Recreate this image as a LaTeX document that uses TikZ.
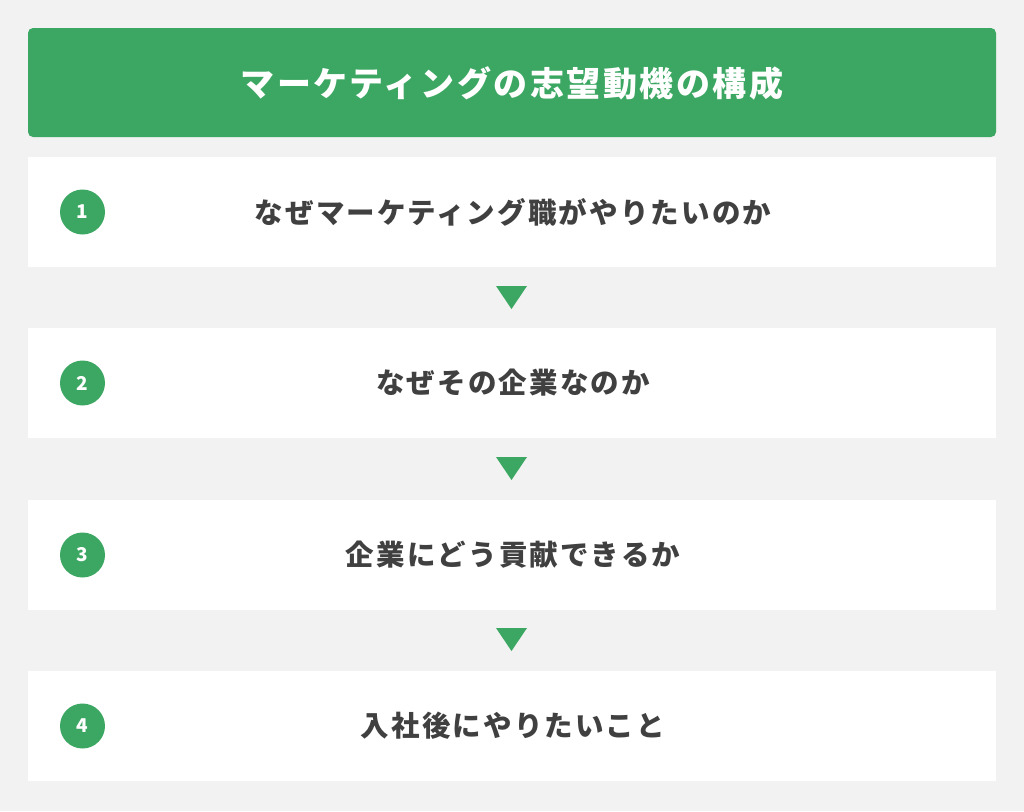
\documentclass[tikz,border=0pt]{standalone}
\usepackage{fontspec}
\newfontfamily\cjk{Noto Sans CJK JP}
\definecolor{bggray}{RGB}{242,242,242}
\definecolor{mygreen}{RGB}{60,167,98}
\definecolor{txtgray}{RGB}{64,64,64}
\tikzset{
  header/.style={fill=mygreen, rounded corners=5pt, draw=none},
  rowbox/.style={fill=white, draw=none},
  rowtext/.style={text=txtgray, font=\cjk\bfseries\fontsize{28.5}{31}\selectfont\addfontfeature{LetterSpace=7.5}, inner sep=0pt},
  numcirc/.style={circle, fill=mygreen, minimum size=45pt, inner sep=0pt, text=white, font=\cjk\bfseries\fontsize{19}{21}\selectfont},
  arrowtri/.style={fill=mygreen, draw=none}
}
\begin{document}
\begin{tikzpicture}[x=1pt,y=-1pt]
\useasboundingbox (0,0) rectangle (1024,811);
\fill[bggray] (0,0) rectangle (1024,811);
\fill[header] (28,28) rectangle (996,137);
\node[text=white, font=\cjk\bfseries\fontsize{34}{37}\selectfont\addfontfeature{LetterSpace=7.5}, inner sep=0pt] (title) at (512,83) {マーケティングの志望動機の構成};
\foreach \i/\top/\txt in {1/157/なぜマーケティング職がやりたいのか, 2/328/なぜその企業なのか, 3/500/企業にどう貢献できるか, 4/671/入社後にやりたいこと}{
  \fill[rowbox] (28,\top) rectangle (996,\top+110);
  \node[numcirc] (c\i) at (82.5,\top+55) {\i};
  \node[rowtext] (t\i) at (513,\top+55) {\txt};
}
\foreach \y in {286,457,628}{
  \fill[arrowtri] (496,\y) -- (527,\y) -- (511.5,\y+23) -- cycle;
}
\end{tikzpicture}
\end{document}
